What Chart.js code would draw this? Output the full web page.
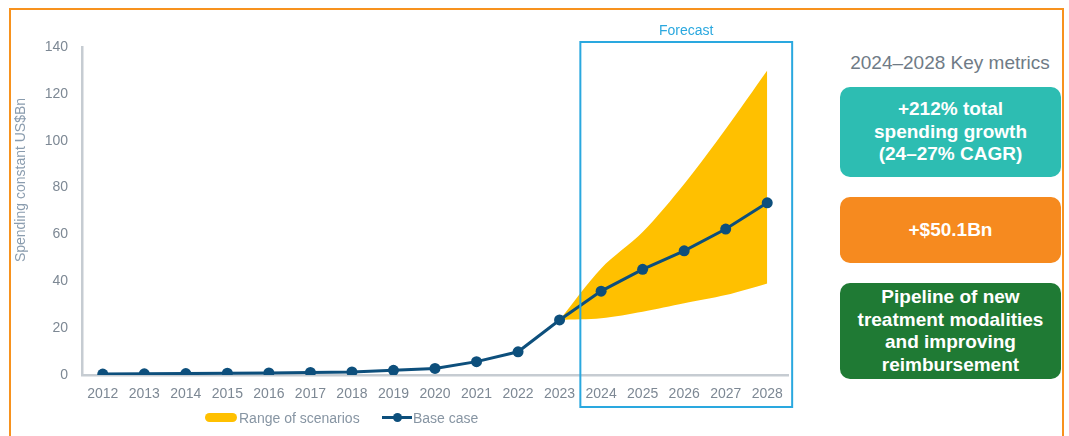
<!DOCTYPE html>
<html>
<head>
<meta charset="utf-8">
<script src="https://cdn.jsdelivr.net/npm/chart.js@4.4.1/dist/chart.umd.min.js"></script>
<style>
  body { margin: 0; background: #fff; font-family: "Liberation Sans", Arial, sans-serif; }
  #wrap { position: relative; width: 1069px; height: 436px; overflow: hidden; background: #fff; }
  #frame { position: absolute; left: 9px; top: 8px; width: 1051px; height: 450px; border: 2px solid #f7921e; }
  #chart { position: absolute; left: 0; top: 0; }
  .legend { position: absolute; top: 409px; font-size: 14px; color: #8795a3; line-height: 18px; white-space: nowrap; }
  .pill { display: inline-block; width: 32px; height: 9px; border-radius: 5px; background: #ffc000; vertical-align: 1px; margin-right: 2px; }
  .lineKey { display: inline-block; position: relative; width: 30px; height: 3px; background: #0d4f7c; vertical-align: 4px; margin-right: 1px; }
  .lineKey::after { content: ""; position: absolute; left: 11px; top: -3px; width: 9px; height: 9px; border-radius: 50%; background: #0d4f7c; }
  #kmTitle { position: absolute; left: 835px; width: 230px; top: 52px; text-align: center; font-size: 19px; color: #6f7b86; }
  .box { position: absolute; left: 840px; width: 221px; border-radius: 10px; color: #fff; font-weight: bold;
         font-size: 19px; line-height: 22.5px; text-align: center; display: flex; align-items: center; justify-content: center; }
</style>
</head>
<body>
<div id="wrap">
  <div id="frame"></div>
  <canvas id="chart" width="830" height="436"></canvas>
  <div class="legend" style="left:205px;"><span class="pill"></span>Range of scenarios</div>
  <div class="legend" style="left:382px;"><span class="lineKey"></span>Base case</div>
  <div id="kmTitle">2024–2028 Key metrics</div>
  <div class="box" style="top:87px;height:90px;background:#2dbdb2;">+212% total<br>spending growth<br>(24–27% CAGR)</div>
  <div class="box" style="top:197px;height:66px;background:#f68a1f;">+$50.1Bn</div>
  <div class="box" style="top:283px;height:96px;background:#1f7a34;">Pipeline of new<br>treatment modalities<br>and improving<br>reimbursement</div>
</div>

<script>
// ---- data ----
const years = ["2012","2013","2014","2015","2016","2017","2018","2019","2020",
               "2021","2022","2023","2024","2025","2026","2027","2028"];
const baseCase = [0.4, 0.5, 0.6, 0.8, 0.9, 1.1, 1.3, 2.0, 2.8, 5.7, 9.9, 23.5, 35.8, 45.1, 53.0, 62.3, 73.5];
const rangeHigh = [null, null, null, null, null, null, null, null, null, null, null, 23.5, 45.5, 61.0, 81.5, 105.0, 130.0];
const rangeLow  = [null, null, null, null, null, null, null, null, null, null, null, 23.5, 24.2, 27.0, 30.6, 34.1, 39.1];
const yTicks = [0, 20, 40, 60, 80, 100, 120, 140];

const tickColor = "#7d8894";
const axisColor = "#c6ccd2";

/* Forecast box + y axis title */
const extras = {
  id: "extras",
  afterDraw(chart) {
    const ctx = chart.ctx;
    const x = chart.scales.x;
    const step = x.getPixelForValue(1) - x.getPixelForValue(0);
    const left = (x.getPixelForValue(11) + x.getPixelForValue(12)) / 2;
    const right = x.getPixelForValue(16) + step * 0.6;
    ctx.save();
    ctx.strokeStyle = "#2aa8df";
    ctx.lineWidth = 2;
    ctx.strokeRect(left, 42, right - left, 365);
    ctx.fillStyle = "#2aa8df";
    ctx.font = "14px 'Liberation Sans', Arial";
    ctx.textAlign = "center";
    ctx.textBaseline = "middle";
    ctx.fillText("Forecast", (left + right) / 2, 31);

    ctx.translate(21, 180);
    ctx.rotate(-Math.PI / 2);
    ctx.fillStyle = "#8a9cae";
    ctx.fillText("Spending constant US$Bn", 0, 0);
    ctx.restore();
  }
};

new Chart(document.getElementById("chart"), {
  type: "line",
  data: {
    labels: years,
    datasets: [
      {
        label: "Base case",
        data: baseCase,
        borderColor: "#0d4f7c",
        backgroundColor: "#0d4f7c",
        borderWidth: 3,
        pointRadius: 5.5,
        pointBorderWidth: 0,
        fill: false,
        order: 0,
      },
      {
        label: "Range of scenarios",
        data: rangeHigh,
        borderWidth: 0,
        pointRadius: 0,
        backgroundColor: "#ffc000",
        fill: "+1",
        tension: 0.3,
        order: 1,
      },
      {
        label: "low",
        data: rangeLow,
        borderWidth: 0,
        pointRadius: 0,
        backgroundColor: "#ffc000",
        fill: false,
        tension: 0.3,
        order: 2,
      },
    ],
  },
  options: {
    responsive: false,
    animation: false,
    layout: { padding: { left: 0, top: 47, right: 42, bottom: 31 } },
    plugins: {
      legend: { display: false },
      tooltip: { enabled: false },
    },
    scales: {
      x: {
        offset: true,
        grid: { display: false, drawTicks: false },
        border: { display: true, color: axisColor, width: 2.5 },
        ticks: { color: tickColor, font: { size: 14, family: "'Liberation Sans', Arial" }, padding: 11, maxRotation: 0, autoSkip: false },
        afterFit(s) { s.height = 30; },
      },
      y: {
        min: 0,
        max: 140,
        grid: { display: false, drawTicks: false },
        border: { display: true, color: axisColor, width: 2.5 },
        afterBuildTicks(s) { s.ticks = yTicks.map(v => ({ value: v })); },
        ticks: { color: tickColor, font: { size: 14, family: "'Liberation Sans', Arial" }, padding: 14 },
        afterFit(s) { s.width = 82; },
      },
    },
  },
  plugins: [extras],
});
</script>
</body>
</html>
